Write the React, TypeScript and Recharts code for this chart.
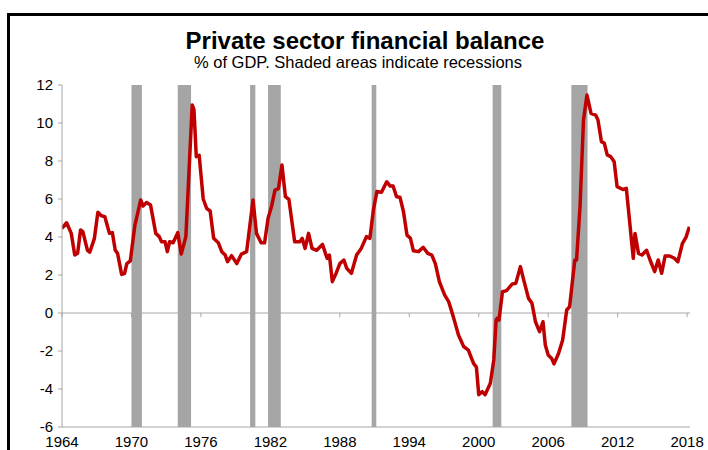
import React from 'react';
import {
  LineChart,
  Line,
  XAxis,
  YAxis,
  ReferenceArea,
  ReferenceLine
} from 'recharts';

// quarterly-ish readings (year, % of GDP)
const years = [
  1964.0, 1964.4, 1964.8, 1965.1, 1965.35, 1965.6, 1965.8, 1966.2, 1966.4, 1966.8,
  1967.1, 1967.4, 1967.7, 1968.1, 1968.35, 1968.6, 1968.8, 1969.15, 1969.4, 1969.6,
  1969.9, 1970.3, 1970.8, 1971.0, 1971.3, 1971.65, 1972.1, 1972.4, 1972.6, 1972.9,
  1973.1, 1973.3, 1973.6, 1974.0, 1974.3, 1974.7, 1975.25, 1975.4, 1975.6, 1975.85,
  1976.2, 1976.5, 1976.8, 1977.1, 1977.5, 1977.8, 1978.1, 1978.3, 1978.65, 1979.1,
  1979.5, 1979.95, 1980.5, 1980.8, 1981.2, 1981.5, 1981.8, 1982.1, 1982.4, 1982.7,
  1983.0, 1983.3, 1983.6, 1984.1, 1984.55, 1984.75, 1985.0, 1985.3, 1985.6, 1986.0,
  1986.5, 1986.9, 1987.1, 1987.35, 1987.7, 1988.0, 1988.35, 1988.6, 1989.0, 1989.45,
  1989.85, 1990.3, 1990.6, 1990.9, 1991.2, 1991.6, 1992.05, 1992.35, 1992.6, 1992.9,
  1993.2, 1993.5, 1993.8, 1994.1, 1994.35, 1994.8, 1995.2, 1995.6, 1995.95, 1996.25,
  1996.6, 1997.05, 1997.4, 1997.8, 1998.25, 1998.7, 1999.1, 1999.55, 1999.8, 2000.0,
  2000.3, 2000.55, 2001.0, 2001.3, 2001.5, 2001.6, 2001.75, 2002.05, 2002.4, 2002.9,
  2003.2, 2003.6, 2003.85, 2004.3, 2004.6, 2004.9, 2005.25, 2005.55, 2005.75, 2006.0,
  2006.3, 2006.5, 2006.9, 2007.25, 2007.6, 2007.85, 2008.3, 2008.45, 2008.75, 2009.05,
  2009.35, 2009.7, 2010.1, 2010.3, 2010.6, 2010.85, 2011.1, 2011.4, 2011.7, 2011.95,
  2012.45, 2012.75, 2013.35, 2013.5, 2013.8, 2014.1, 2014.5, 2014.8, 2015.2, 2015.5,
  2015.8, 2016.1, 2016.5, 2016.9, 2017.2, 2017.6, 2017.9, 2018.2
];

const balance = [
  4.46, 4.75, 4.19, 3.05, 3.14, 4.37, 4.28, 3.3, 3.2, 3.93,
  5.3, 5.12, 5.07, 4.19, 4.23, 3.3, 3.14, 2.03, 2.07, 2.6,
  2.74, 4.63, 5.95, 5.63, 5.81, 5.68, 4.19, 4.02, 3.75, 3.75,
  3.23, 3.75, 3.7, 4.23, 3.1, 4.02, 10.95, 10.7, 8.23, 8.3,
  6.0, 5.5, 5.37, 3.93, 3.7, 3.23, 3.05, 2.7, 3.02, 2.6,
  3.1, 3.23, 5.95, 4.19, 3.7, 3.7, 4.98, 5.6, 6.47, 6.55,
  7.79, 6.12, 5.98, 3.75, 3.75, 3.93, 3.4, 4.19, 3.4, 3.3,
  3.61, 2.88, 3.05, 1.65, 2.12, 2.6, 2.79, 2.35, 2.09, 3.05,
  3.4, 4.02, 3.93, 5.42, 6.39, 6.35, 6.91, 6.68, 6.68, 6.12,
  6.09, 5.33, 4.1, 3.93, 3.28, 3.23, 3.46, 3.14, 3.05, 2.6,
  1.65, 0.95, 0.6, -0.19, -1.16, -1.77, -1.95, -2.65, -2.85, -4.3,
  -4.14, -4.3, -3.7, -2.47, -0.37, -0.28, -0.37, 1.12, 1.18, 1.53,
  1.56, 2.44, 1.82, 0.77, 0.51, -0.46, -0.98, -0.46, -1.68, -2.21,
  -2.39, -2.68, -2.12, -1.42, 0.16, 0.33, 2.79, 2.79, 5.6, 10.16,
  11.47, 10.51, 10.42, 10.16, 9.02, 8.93, 8.32, 8.23, 7.96, 6.65,
  6.5, 6.56, 2.88, 4.19, 3.14, 3.05, 3.3, 2.79, 2.18, 2.79,
  2.09, 3.0, 3.0, 2.88, 2.7, 3.67, 3.98, 4.54
];

// recession shading, start / end in fractional years
const recessionStart = [1970.0, 1974.0, 1980.25, 1981.8, 1990.75, 2001.2, 2008.0];
const recessionEnd = [1970.9, 1975.15, 1980.7, 1982.9, 1991.15, 2001.95, 2009.4];

const xTicks = [1964, 1970, 1976, 1982, 1988, 1994, 2000, 2006, 2012, 2018];
const yTicks = [-6, -4, -2, 0, 2, 4, 6, 8, 10, 12];

const data = years.map((year, i) => ({ year, value: balance[i] }));

const FONT = '"Liberation Sans", Arial, sans-serif';
const AXIS_GREY = '#a6a6a6';

export default function App() {
  return (
    <div style={{ position: 'fixed', left: 0, top: 0, width: 708, height: 450, background: '#fff', overflow: 'hidden', fontFamily: FONT }}>
      {/* frame (only top and left edges are inside the picture) */}
      <div style={{ position: 'absolute', left: 7, top: 13, width: 800, height: 500, borderTop: '3px solid #000', borderLeft: '3px solid #000' }} />

      <LineChart width={708} height={450} data={data} margin={{ top: 85, right: 18, bottom: 0, left: 12 }}>
        {recessionStart.map((s, i) => (
          <ReferenceArea key={s} x1={s} x2={recessionEnd[i]} y1={-6} y2={12} fill="#a5a5a5" fillOpacity={1} stroke="none" />
        ))}
        <XAxis
          dataKey="year"
          type="number"
          domain={[1964, 2018.25]}
          ticks={xTicks}
          allowDataOverflow
          height={23}
          axisLine={{ stroke: AXIS_GREY }}
          tickLine={false}
          tick={{ fill: '#000', fontSize: 15, fontFamily: FONT }}
          tickMargin={5}
          tickSize={4}
        />
        <YAxis
          type="number"
          domain={[-6, 12]}
          ticks={yTicks}
          width={50}
          axisLine={{ stroke: AXIS_GREY }}
          tickLine={{ stroke: AXIS_GREY }}
          tickSize={4}
          tickMargin={5}
          tick={{ fill: '#000', fontSize: 15, fontFamily: FONT }}
        />
        <ReferenceLine y={0} stroke={AXIS_GREY} strokeWidth={1} />
        {xTicks.map((t) => (
          <ReferenceLine key={t} segment={[{ x: t, y: 0 }, { x: t, y: -0.22 }]} stroke={AXIS_GREY} />
        ))}
        <Line
          type="linear"
          dataKey="value"
          stroke="#c00000"
          strokeWidth={3.5}
          strokeLinejoin="round"
          dot={false}
          isAnimationActive={false}
        />
      </LineChart>

      <div style={{ position: 'absolute', left: 0, width: 730, top: 28, textAlign: 'center', fontSize: 24, fontWeight: 'bold', lineHeight: '26px', color: '#000' }}>
        Private sector financial balance
      </div>
      <div style={{ position: 'absolute', left: 0, width: 716, top: 54, textAlign: 'center', fontSize: 16.5, lineHeight: '17px', color: '#000' }}>
        % of GDP. Shaded areas indicate recessions
      </div>
    </div>
  );
}
